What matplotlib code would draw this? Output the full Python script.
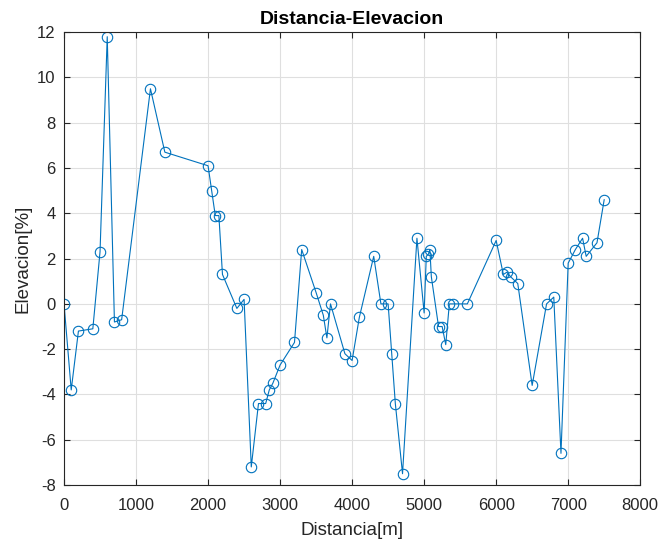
import matplotlib
matplotlib.use('Agg')
import matplotlib.pyplot as plt

distancia = [0, 100, 200, 400, 500, 600, 700, 800, 1200, 1400,
             2000, 2050, 2100, 2150, 2200, 2400, 2500, 2600, 2700, 2800,
             2850, 2900, 3000, 3200, 3300, 3500, 3600, 3650, 3700, 3900,
             4000, 4100, 4300, 4400, 4500, 4550, 4600, 4700, 4900, 5000,
             5030, 5060, 5080, 5100, 5200, 5250, 5300, 5350, 5400, 5600,
             6000, 6100, 6150, 6200, 6300, 6500, 6700, 6800, 6900, 7000,
             7100, 7200, 7250, 7400, 7500]
elevacion = [0.0, -3.8, -1.2, -1.1, 2.3, 11.8, -0.8, -0.7, 9.5, 6.7,
             6.1, 5.0, 3.9, 3.9, 1.3, -0.2, 0.2, -7.2, -4.4, -4.4,
             -3.8, -3.5, -2.7, -1.7, 2.4, 0.5, -0.5, -1.5, 0.0, -2.2,
             -2.5, -0.6, 2.1, 0.0, 0.0, -2.2, -4.4, -7.5, 2.9, -0.4,
             2.1, 2.2, 2.4, 1.2, -1.0, -1.0, -1.8, 0.0, 0.0, 0.0,
             2.8, 1.3, 1.4, 1.2, 0.9, -3.6, 0.0, 0.3, -6.6, 1.8,
             2.4, 2.9, 2.1, 2.7, 4.6]

plt.rcParams['font.family'] = ['Liberation Sans', 'DejaVu Sans']
plt.rcParams['axes.unicode_minus'] = False

fig = plt.figure(figsize=(6.6, 5.45), dpi=100)
ax = fig.add_axes([0.097, 0.110, 0.873, 0.831])
ax.plot(distancia, elevacion, '-o', color='#0072BD', linewidth=0.8,
        markersize=7.5, markerfacecolor='none', markeredgewidth=0.8)

ax.set_xlim(0, 8000)
ax.set_ylim(-8, 12)
ax.set_xticks(range(0, 8001, 1000))
ax.set_yticks(range(-8, 13, 2))
ax.grid(True, color='#dfdfdf', linewidth=0.8)
ax.set_axisbelow(True)
ax.tick_params(direction='in', top=True, right=True, labelsize=12,
               colors='#262626', length=4, pad=6)
ax.tick_params(axis='x', pad=9.5)
for s in ax.spines.values():
    s.set_color('#262626')
    s.set_linewidth(0.8)

ax.set_title('Distancia-Elevacion', fontsize=14, fontweight='bold', pad=6)
ax.set_xlabel('Distancia[m]', fontsize=13.5, color='#262626', labelpad=6)
ax.set_ylabel('Elevacion[%]', fontsize=13.5, color='#262626', labelpad=4)

plt.savefig('out.png', dpi=100)
